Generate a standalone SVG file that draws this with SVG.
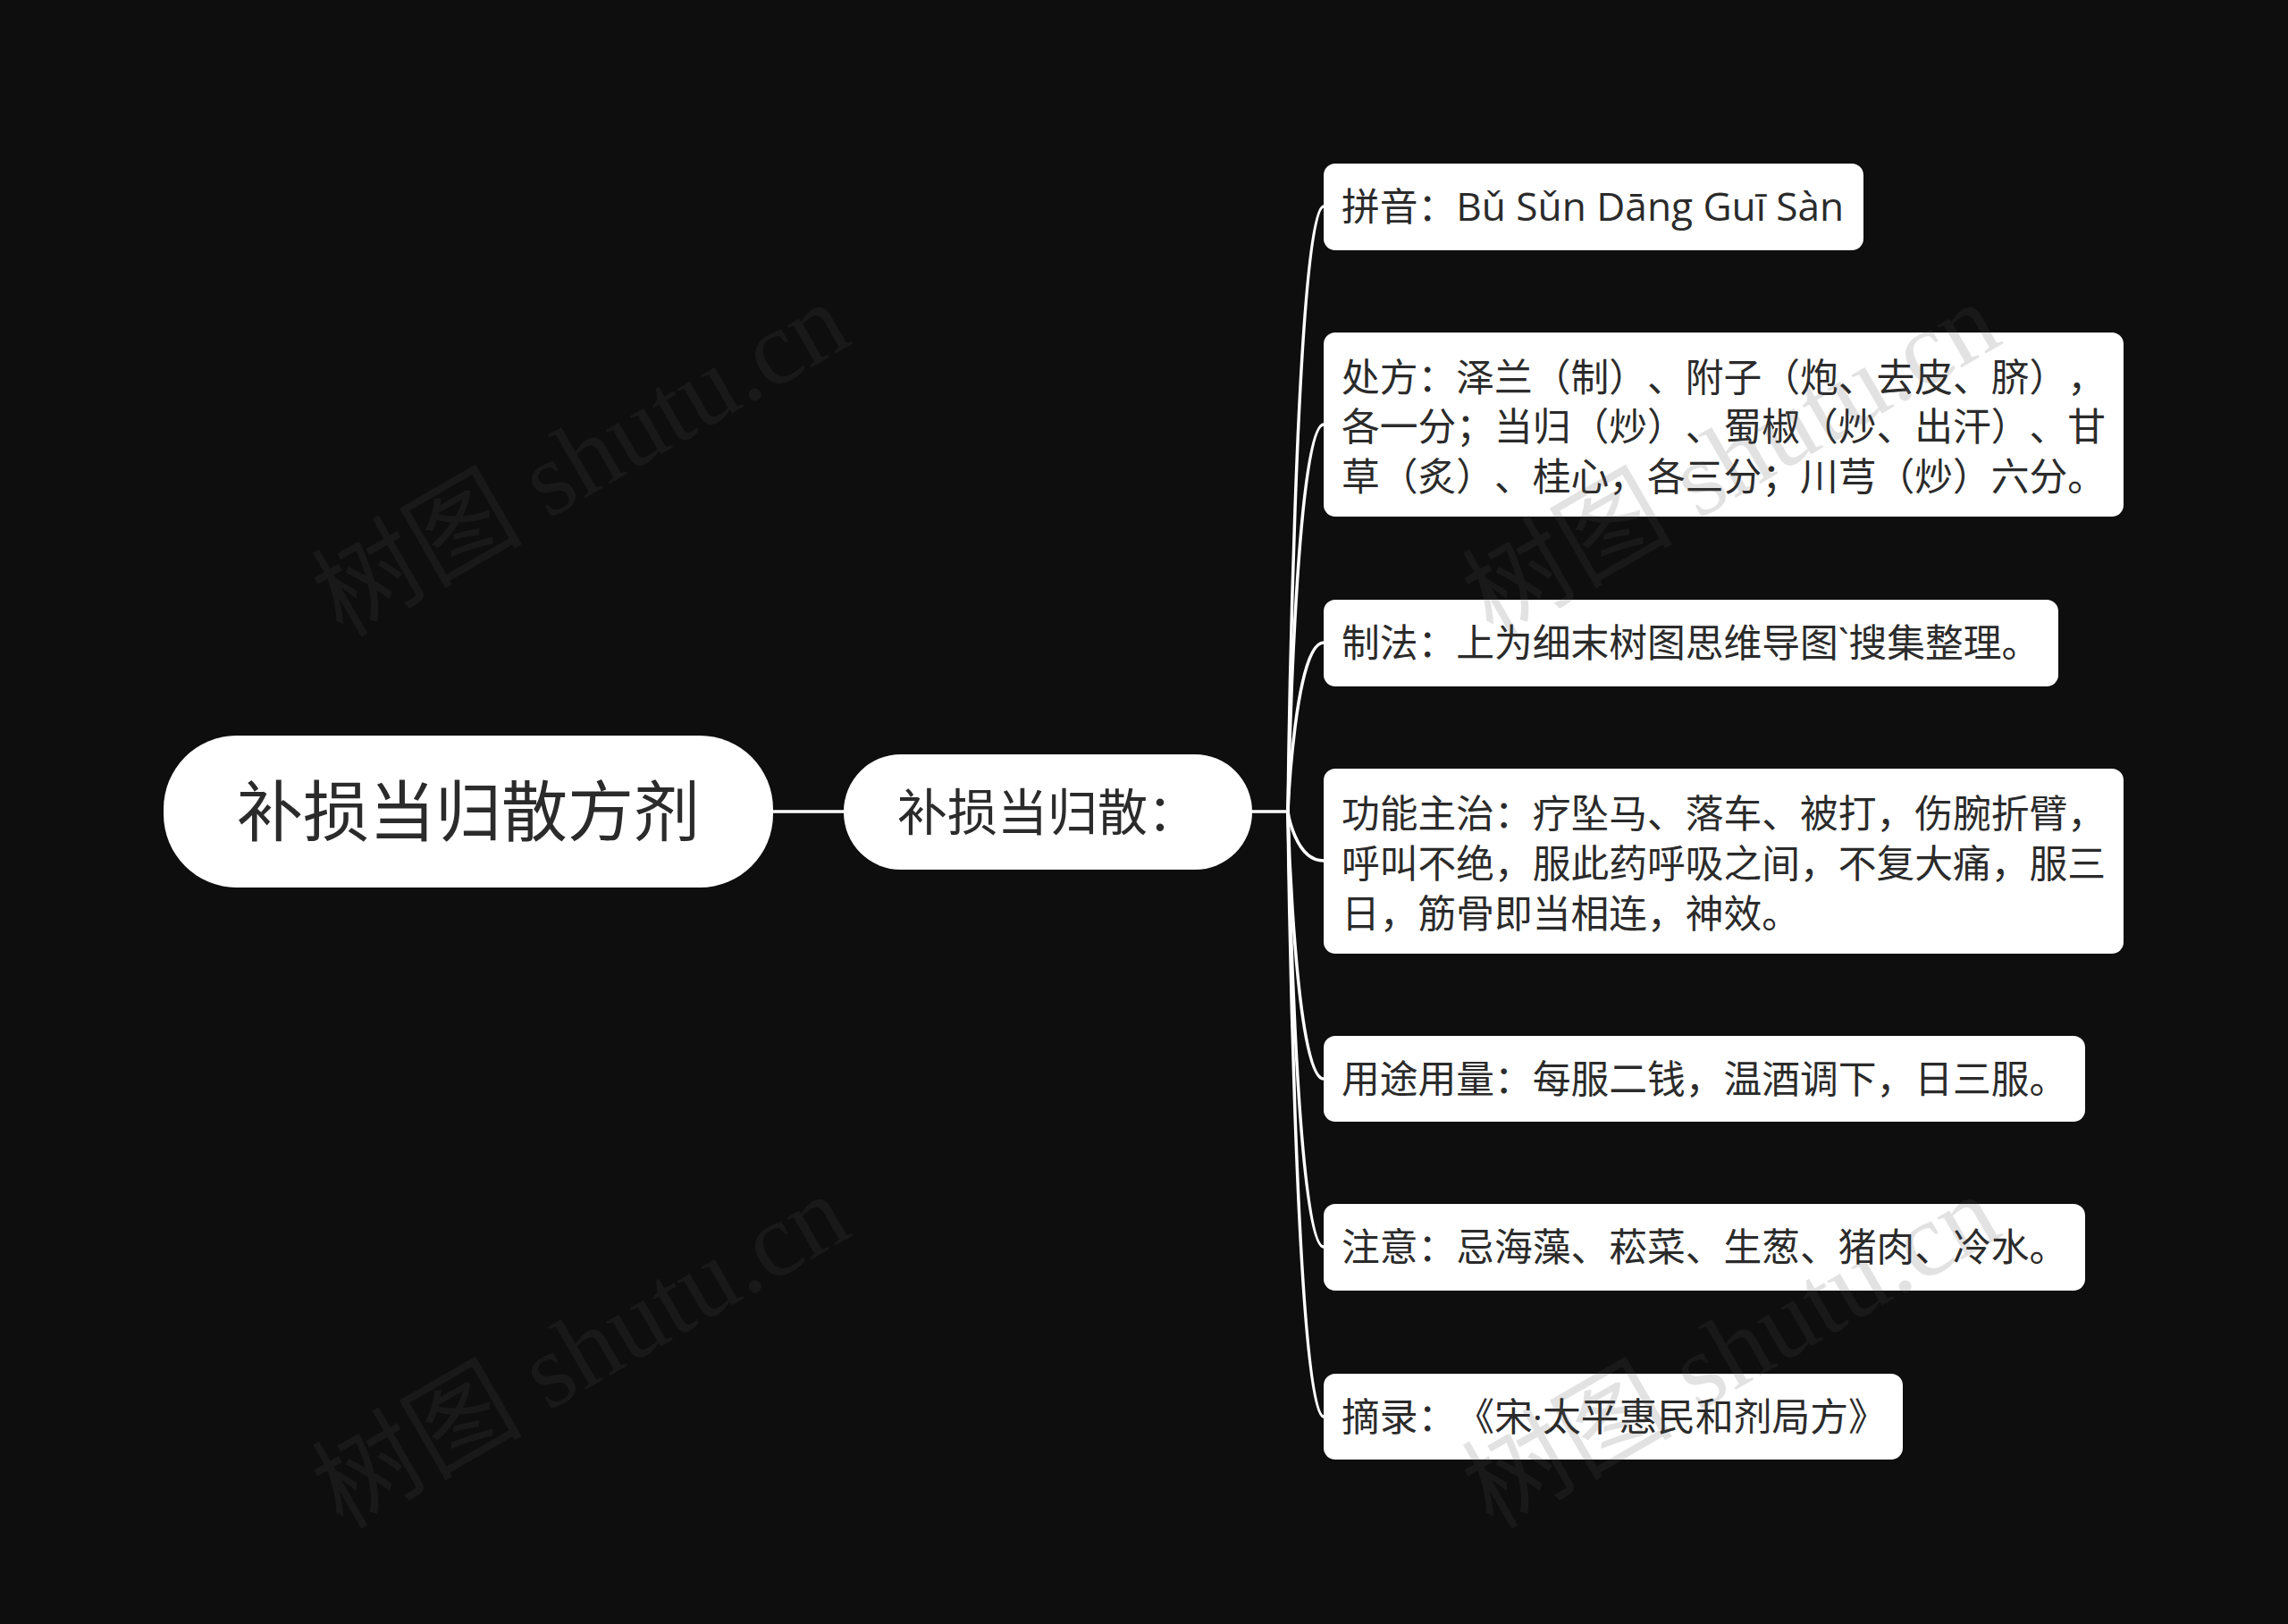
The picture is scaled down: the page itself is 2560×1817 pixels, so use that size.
<svg xmlns="http://www.w3.org/2000/svg" width="2560" height="1817" viewBox="0 0 2560 1817">
<style>
.bg{fill:#0e0e0e}
.node{fill:#ffffff}
.t{font-family:"Open Sans","Noto Sans CJK SC",sans-serif;fill:#2b2b2b;text-spacing-trim:space-all;font-kerning:none}
.leaf{font-size:42.75px}
.conn{fill:none;stroke:#ffffff;stroke-width:3.5;stroke-linecap:round}
.wm{font-family:"Liberation Serif","Noto Sans CJK SC",serif;font-size:118px;fill:#555555;fill-opacity:0.17}
</style>
<rect class="bg" x="0" y="0" width="2560" height="1817"/>
<g id="connectors">
<path class="conn" d="M865,908 H944" stroke-width="4"/>
<path class="conn" d="M1401,908 H1441" stroke-width="4"/>
<path class="conn" d="M1441,908 C1441,908 1449,231 1481,231"/>
<path class="conn" d="M1441,908 C1441,908 1449,475 1481,475"/>
<path class="conn" d="M1441,908 C1441,908 1449,719 1481,719"/>
<path class="conn" d="M1441,908 C1441,908 1449,963 1481,963"/>
<path class="conn" d="M1441,908 C1441,908 1449,1207 1481,1207"/>
<path class="conn" d="M1441,908 C1441,908 1449,1395 1481,1395"/>
<path class="conn" d="M1441,908 C1441,908 1449,1585 1481,1585"/>
</g>
<g id="root">
<rect class="node" x="183" y="823" width="682" height="170" rx="82" ry="82"/>
<text class="t" x="524" y="935" font-size="74" text-anchor="middle">补损当归散方剂</text>
</g>
<g id="main">
<rect class="node" x="944" y="844" width="457" height="129" rx="64" ry="64"/>
<text class="t" x="1172" y="929" font-size="56" text-anchor="middle">补损当归散：</text>
</g>
<g id="leaf1">
<rect class="node" x="1481" y="183" width="604" height="97" rx="13" ry="13"/>
<text class="t leaf" x="1501" y="247">拼音：<tspan font-size="44.2">Bǔ Sǔn Dāng Guī Sàn</tspan></text>
</g>
<g id="leaf2">
<rect class="node" x="1481" y="372" width="895" height="206" rx="13" ry="13"/>
<text class="t leaf" x="1501" y="438">处方：泽兰（制）、附子（炮、去皮、脐），</text>
<text class="t leaf" x="1501" y="493">各一分；当归（炒）、蜀椒（炒、出汗）、甘</text>
<text class="t leaf" x="1501" y="549">草（炙）、桂心，各三分；川芎（炒）六分。</text>
</g>
<g id="leaf3">
<rect class="node" x="1481" y="671" width="822" height="97" rx="13" ry="13"/>
<text class="t leaf" x="1501" y="735">制法：上为细末树图思维导图`搜集整理。</text>
</g>
<g id="leaf4">
<rect class="node" x="1481" y="860" width="895" height="207" rx="13" ry="13"/>
<text class="t leaf" x="1501" y="926">功能主治：疗坠马、落车、被打，伤腕折臂，</text>
<text class="t leaf" x="1501" y="982">呼叫不绝，服此药呼吸之间，不复大痛，服三</text>
<text class="t leaf" x="1501" y="1038">日，筋骨即当相连，神效。</text>
</g>
<g id="leaf5">
<rect class="node" x="1481" y="1159" width="852" height="96" rx="13" ry="13"/>
<text class="t leaf" x="1501" y="1223">用途用量：每服二钱，温酒调下，日三服。</text>
</g>
<g id="leaf6">
<rect class="node" x="1481" y="1347" width="852" height="97" rx="13" ry="13"/>
<text class="t leaf" x="1501" y="1411">注意：忌海藻、菘菜、生葱、猪肉、冷水。</text>
</g>
<g id="leaf7">
<rect class="node" x="1481" y="1537" width="648" height="96" rx="13" ry="13"/>
<text class="t leaf" x="1501" y="1601">摘录：《宋·太平惠民和剂局方》</text>
</g>
<g id="watermarks">
<text class="wm" transform="translate(383,714) rotate(-30)">树图 shutu.cn</text>
<text class="wm" transform="translate(1670,714) rotate(-30)">树图 shutu.cn</text>
<text class="wm" transform="translate(383,1712) rotate(-30)">树图 shutu.cn</text>
<text class="wm" transform="translate(1670,1712) rotate(-30)">树图 shutu.cn</text>
</g>
</svg>
